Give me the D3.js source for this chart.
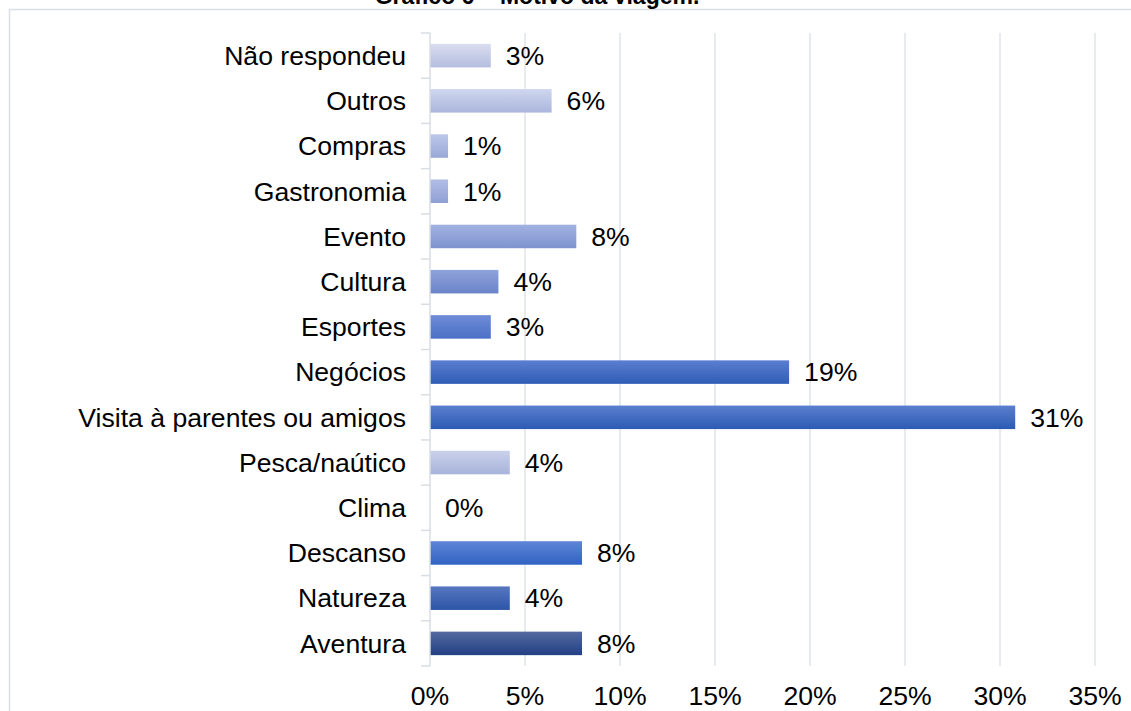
<!DOCTYPE html>
<html>
<head>
<meta charset="utf-8">
<script src="https://cdn.jsdelivr.net/npm/d3@7"></script>
<style>
  body { margin: 0; background: #fff; }
  text { font-family: "Liberation Sans", Arial, sans-serif; fill: #000; }
</style>
</head>
<body>
<svg></svg>
<script>
let width = 1131;
let height = 711;

// data (percent)
let categories = ["Não respondeu", "Outros", "Compras", "Gastronomia", "Evento", "Cultura", "Esportes",
  "Negócios", "Visita à parentes ou amigos", "Pesca/naútico", "Clima", "Descanso", "Natureza", "Aventura"];
let values = [3.2, 6.4, 0.95, 0.95, 7.7, 3.6, 3.2, 18.9, 30.8, 4.2, 0, 8.0, 4.2, 8.0];
let xTicks = [0, 5, 10, 15, 20, 25, 30, 35];
let title = "Gráfico 6 – Motivo da viagem.";

// gradient top / bottom colour for each bar
let colorTop = ["#d9ddef", "#cfd6ef", "#bdc7ea", "#b1bde6", "#a2b2e1", "#8fa3db", "#6f8cd7",
  "#5c7ed0", "#5b7fd0", "#cad1eb", "#cad1eb", "#5f85d7", "#5777c0", "#53699f"];
let colorBottom = ["#b5bddf", "#abb6dc", "#99a8d7", "#8fa0d3", "#7e93cf", "#6b83c8", "#4b70c6",
  "#2f5db5", "#2c5bb3", "#a7b3da", "#a7b3da", "#3062c2", "#2d55a6", "#234085"];

let svg = d3.select('svg').attr('width', width).attr('height', height);

let xScale = d3.scaleLinear().domain([0, 35]).range([430, 1095]);
let yScale = d3.scaleBand().domain(categories).range([33, 666])
  .paddingInner(0.48).paddingOuter(0.24);

// frame of the chart area
svg.append('path')
  .attr('d', 'M9.5,' + height + ' V9.5 H' + width)
  .attr('fill', 'none').attr('stroke', '#dadee6').attr('stroke-width', 1.5);

// title (cut off at the top, as in the original)
svg.append('text')
  .attr('x', 537).attr('y', 4)
  .attr('text-anchor', 'middle')
  .style('font-size', '23px').style('font-weight', 'bold')
  .text(title);

// vertical gridlines
svg.append('g').selectAll('line').data(xTicks.slice(1)).join('line')
  .attr('x1', d => xScale(d)).attr('x2', d => xScale(d))
  .attr('y1', 33).attr('y2', 666)
  .attr('stroke', '#dfe3ea').attr('stroke-width', 1.5);

// gradients
let defs = svg.append('defs');
categories.forEach((c, i) => {
  let g = defs.append('linearGradient').attr('id', 'grad' + i)
    .attr('x1', 0).attr('y1', 0).attr('x2', 0).attr('y2', 1);
  g.append('stop').attr('offset', '0%').attr('stop-color', colorTop[i]);
  g.append('stop').attr('offset', '100%').attr('stop-color', colorBottom[i]);
});

// bars
svg.append('g').selectAll('rect').data(categories).join('rect')
  .attr('x', xScale(0))
  .attr('y', d => yScale(d))
  .attr('width', (d, i) => xScale(values[i]) - xScale(0))
  .attr('height', yScale.bandwidth())
  .attr('fill', (d, i) => 'url(#grad' + i + ')');

// y axis line and ticks at the category boundaries
let step = yScale.step();
let boundaries = d3.range(categories.length + 1).map(i => 33 + i * step);
let yAxis = svg.append('g');
yAxis.append('line')
  .attr('x1', 430).attr('x2', 430).attr('y1', 33).attr('y2', 666)
  .attr('stroke', '#d9dde5').attr('stroke-width', 1.5);
yAxis.selectAll('.tk').data(boundaries).join('line').attr('class', 'tk')
  .attr('x1', 421).attr('x2', 430)
  .attr('y1', d => d).attr('y2', d => d)
  .attr('stroke', '#d9dde5').attr('stroke-width', 1.5);

// category labels
svg.append('g').selectAll('text').data(categories).join('text')
  .attr('x', 406)
  .attr('y', d => yScale(d) + yScale.bandwidth() / 2)
  .attr('dy', '0.35em')
  .attr('text-anchor', 'end')
  .style('font-size', '26.6px')
  .text(d => d);

// value labels
svg.append('g').selectAll('text').data(categories).join('text')
  .attr('x', (d, i) => xScale(values[i]) + 15)
  .attr('y', d => yScale(d) + yScale.bandwidth() / 2)
  .attr('dy', '0.35em')
  .style('font-size', '26.6px')
  .text((d, i) => Math.round(values[i]) + '%');

// x tick labels
svg.append('g').selectAll('text').data(xTicks).join('text')
  .attr('x', d => xScale(d))
  .attr('y', 705)
  .attr('text-anchor', 'middle')
  .style('font-size', '26.6px')
  .text(d => d + '%');
</script>
</body>
</html>
